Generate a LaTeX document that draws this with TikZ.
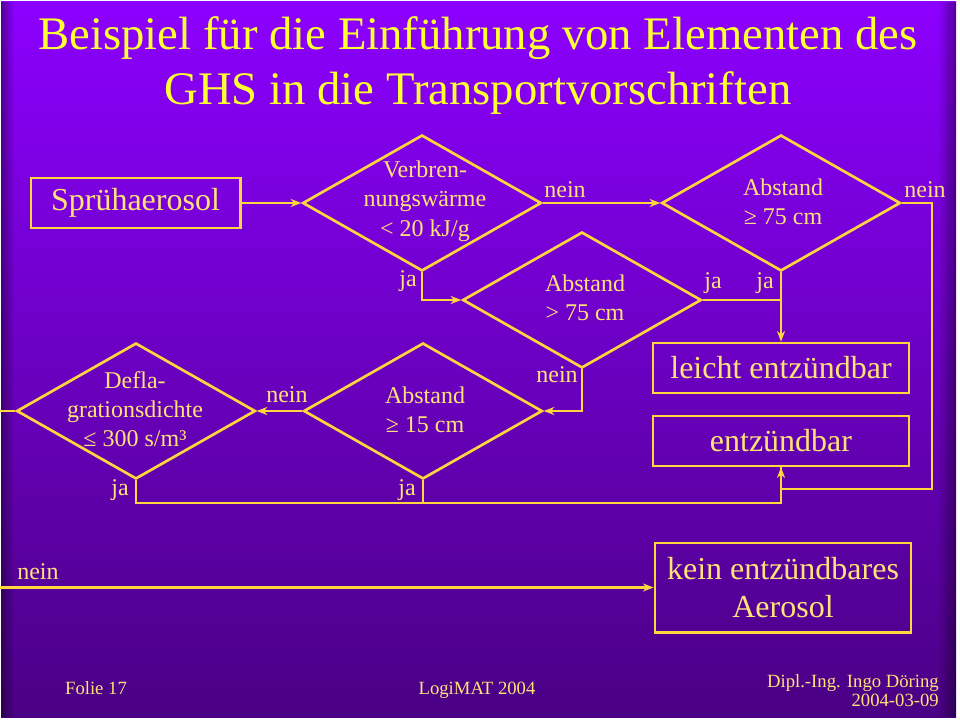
\documentclass[tikz,border=0pt]{standalone}
\usepackage{fontspec}
\setmainfont{Liberation Serif}
\usetikzlibrary{arrows.meta,shapes.geometric,fadings}
\definecolor{bgtop}{RGB}{140,0,255}
\definecolor{bgmid}{RGB}{122,0,228}
\definecolor{bgbot}{RGB}{74,0,132}
\definecolor{titlecol}{RGB}{255,255,50}
\definecolor{txtcol}{RGB}{255,226,120}
\definecolor{linecol}{RGB}{255,215,60}
\tikzfading[name=fadeL, left color=transparent!0, right color=transparent!100]
\tikzfading[name=fadeR, left color=transparent!100, right color=transparent!0]
\tikzset{
  conn/.style={draw=linecol, line width=2pt},
  arr/.style={conn, -{Stealth[length=8pt,width=6pt,inset=2.5pt]}},
  box/.style={draw=linecol, line width=2pt, rectangle, inner sep=0pt, text=txtcol,
    font=\fontsize{24}{28}\selectfont, align=center},
  dia/.style={draw=linecol, line width=2pt, diamond, minimum width=179pt,
    minimum height=102pt, inner sep=0pt},
  dtext/.style={text=txtcol, font=\fontsize{18}{22}\selectfont, align=center, inner sep=0pt},
  lbl/.style={text=txtcol, font=\fontsize{18}{22}\selectfont, inner sep=0pt},
  foot/.style={text=txtcol, font=\fontsize{14}{17}\selectfont, inner sep=0pt},
  ttl/.style={text=titlecol, font=\fontsize{35}{40}\selectfont, inner sep=0pt, anchor=base},
}
\begin{document}
\begin{tikzpicture}[x=0.75pt,y=-0.75pt]
\useasboundingbox (0,0) rectangle (960,720);
% background
\fill[white] (0,0) rectangle (960,720);
\shade[top color=bgtop, middle color=bgmid, bottom color=bgbot] (1,2) rectangle (956,717);
\fill[black, opacity=0.4, path fading=fadeL] (1,2) rectangle (14,717);
\fill[black, opacity=0.4, path fading=fadeR] (938,2) rectangle (956,717);

% title
\node[ttl] (t1) at (478,50) {Beispiel für die Einführung von Elementen des};
\node[ttl] (t2) at (478,105) {GHS in die Transportvorschriften};

% boxes
\node[box, minimum width=157pt, minimum height=37.5pt] (spray) at (135.5,203) {Sprühaerosol};
\node[box, minimum width=192pt, minimum height=37.5pt] (leicht) at (781,368) {leicht entzündbar};
\node[box, minimum width=192pt, minimum height=37.5pt] (entz) at (781,441) {entzündbar};
\node[box, minimum width=192pt, minimum height=67pt] (kein) at (783,587.5) {kein entzündbares\\Aerosol};

% diamonds
\node[dia] (d1) at (422,203) {};
\node[dia] (d2) at (781,203) {};
\node[dia] (d3) at (582,300) {};
\node[dia] (d4) at (423,411) {};
\node[dia] (d5) at (136,411) {};

\node[dtext] (d1t) at (425,201) {Verbren-\\nungswärme\\< 20 kJ/g};
\node[dtext] (d2t) at (783,202) {Abstand\\≥ 75 cm};
\node[dtext] (d3t) at (585,298) {Abstand\\> 75 cm};
\node[dtext] (d4t) at (425,410) {Abstand\\≥ 15 cm};
\node[dtext] (d5t) at (135,409) {Defla-\\grationsdichte\\≤ 300 s/m³};

% coordinates
\coordinate (rtop) at (932,203);
\coordinate (rbot) at (932,489);
\coordinate (jr) at (781,503);
\coordinate (lout) at (0,411);
\coordinate (lin) at (0,587.5);

% connectors
\draw[arr] (spray.east) -- (d1.west);
\draw[arr] (d1.east) -- (d2.west);
\draw[arr] (d1.south) |- (d3.west);
\draw[arr] (d2.south) -- (leicht.north);
\draw[conn] (d3.east) -- (d2.south |- d3.east);
\draw[arr] (d3.south) |- (d4.east);
\draw[arr] (d4.west) -- (d5.east);
\draw[conn] (d5.west) -- (lout);
\draw[conn] (d5.south) |- (jr) -- (entz.south);
\draw[conn] (d4.south) -- (d4.south |- jr);
\draw[arr] (d2.east) -- (rtop) -- (rbot) -| (entz.south);
\draw[arr] (lin) -- (kein.west);

% labels
\node[lbl] (l1) at (565,190) {nein};
\node[lbl] (l2) at (925,190) {nein};
\node[lbl] (l3) at (408,281) {ja};
\node[lbl] (l4) at (713,283) {ja};
\node[lbl] (l5) at (765,283) {ja};
\node[lbl] (l6) at (557,375) {nein};
\node[lbl] (l7) at (287,395) {nein};
\node[lbl] (l8) at (120,490) {ja};
\node[lbl] (l9) at (407,490) {ja};
\node[lbl] (l10) at (38,572) {nein};

% footer
\node[foot, anchor=base] (f1) at (96,694) {Folie 17};
\node[foot, anchor=base] (f2) at (477,694) {LogiMAT 2004};
\node[foot, anchor=base east] (f3) at (939,687) {Dipl.-Ing. Ingo Döring};
\node[foot, anchor=base east] (f4) at (939,706) {2004-03-09};
\end{tikzpicture}
\end{document}
